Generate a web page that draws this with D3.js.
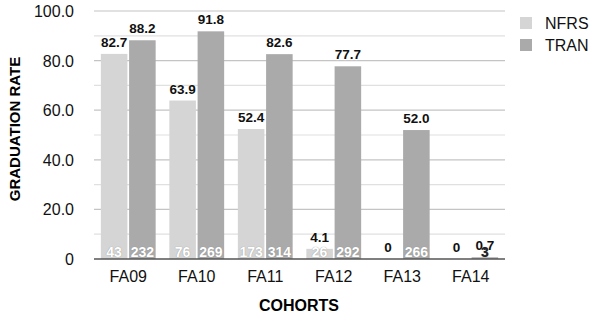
<!DOCTYPE html>
<html>
<head>
<meta charset="utf-8">
<script src="https://cdn.jsdelivr.net/npm/d3@7"></script>
<style>
  body { margin: 0; background: #fff; }
  text { font-family: "Liberation Sans", Helvetica, Arial, sans-serif; }
  .val { font-weight: bold; font-size: 13.5px; fill: #111; text-shadow: 0 1px 1px #fff, 0 0 2px #fff; }
  .cnt { font-weight: bold; font-size: 14px; fill: #fff; text-shadow: 0 0 1px #888; }
</style>
</head>
<body>
<svg id="chart" width="590" height="318"></svg>
<script>
// cohorts and series
var cohorts = ["FA09", "FA10", "FA11", "FA12", "FA13", "FA14"];
var seriesNames = ["NFRS", "TRAN"];
var nfrsRate = [82.7, 63.9, 52.4, 4.1, 0, 0];
var tranRate = [88.2, 91.8, 82.6, 77.7, 52.0, 0.7];
var nfrsCount = ["43", "76", "173", "26", "", ""];
var tranCount = ["232", "269", "314", "292", "266", "3"];
var nfrsLabel = ["82.7", "63.9", "52.4", "4.1", "0", "0"];
var tranLabel = ["88.2", "91.8", "82.6", "77.7", "52.0", "0.7"];
var yTicks = [0, 20, 40, 60, 80, 100];
var colors = ["#d5d5d5", "#aaaaaa"];

var svg = d3.select("#chart");
var m = {left: 94, right: 505, top: 11, bottom: 259};

var x = d3.scaleBand().domain(cohorts).range([m.left, m.right]).paddingInner(0.2).paddingOuter(0.1);
var xs = d3.scaleBand().domain(seriesNames).range([0, x.bandwidth()]).paddingInner(0.06);
var y = d3.scaleLinear().domain([0, 100]).range([m.bottom, m.top]);

// gridlines (minor every 10, major every 20)
svg.append("g").selectAll("line")
  .data(d3.range(10, 101, 10))
  .join("line")
  .attr("x1", m.left).attr("x2", m.right)
  .attr("y1", d => y(d)).attr("y2", d => y(d))
  .attr("stroke", d => d % 20 === 0 ? "#c4c4c4" : "#e0e0e0")
  .attr("stroke-width", 1.2);

var rows = cohorts.map(function(c, i) {
  return {c: c, vals: [
    {s: "NFRS", v: nfrsRate[i], lab: nfrsLabel[i], n: nfrsCount[i]},
    {s: "TRAN", v: tranRate[i], lab: tranLabel[i], n: tranCount[i]}
  ]};
});

var g = svg.append("g").selectAll("g").data(rows).join("g")
  .attr("transform", d => "translate(" + x(d.c) + ",0)");

g.selectAll("rect").data(d => d.vals).join("rect")
  .attr("x", d => xs(d.s))
  .attr("width", xs.bandwidth())
  .attr("y", d => y(d.v))
  .attr("height", d => y(0) - y(d.v))
  .attr("fill", (d, i) => colors[i]);

g.selectAll("text.val").data(d => d.vals).join("text")
  .attr("class", "val")
  .attr("x", d => xs(d.s) + xs.bandwidth() / 2)
  .attr("y", d => y(d.v) - 7)
  .attr("text-anchor", "middle")
  .text(d => d.lab);

g.selectAll("text.cnt").data(d => d.vals).join("text")
  .attr("class", "cnt")
  .attr("x", d => xs(d.s) + xs.bandwidth() / 2)
  .attr("y", y(0) - 2)
  .attr("text-anchor", "middle")
  .style("fill", d => d.v < 2 ? "#222" : null)
  .text(d => d.n);

// baseline
svg.append("line")
  .attr("x1", m.left).attr("x2", m.right)
  .attr("y1", y(0)).attr("y2", y(0))
  .attr("stroke", "#555").attr("stroke-width", 1.5);

// y axis labels
svg.append("g").selectAll("text").data(yTicks).join("text")
  .attr("x", 74).attr("y", d => y(d) + 6)
  .attr("text-anchor", "end")
  .style("font-size", "16px").attr("fill", "#111")
  .text(d => d === 0 ? "0" : d.toFixed(1));

// x axis labels
svg.append("g").selectAll("text").data(cohorts).join("text")
  .attr("x", d => x(d) + x.bandwidth() / 2).attr("y", 282)
  .attr("text-anchor", "middle")
  .style("font-size", "16px").attr("fill", "#111")
  .text(d => d);

svg.append("text").attr("x", 299).attr("y", 311).attr("text-anchor", "middle")
  .style("font-size", "16px").style("font-weight", "bold").text("COHORTS");

svg.append("text").attr("transform", "translate(20,129) rotate(-90)")
  .attr("text-anchor", "middle")
  .style("font-size", "15px").style("font-weight", "bold").text("GRADUATION RATE");

// legend
var lg = svg.append("g").selectAll("g").data(seriesNames).join("g")
  .attr("transform", (d, i) => "translate(520," + (17 + i * 22) + ")");
lg.append("rect").attr("width", 12).attr("height", 12).attr("fill", (d, i) => colors[i]);
lg.append("text").attr("x", 25).attr("y", 12).style("font-size", "16px").attr("fill", "#111").text(d => d);
</script>
</body>
</html>
